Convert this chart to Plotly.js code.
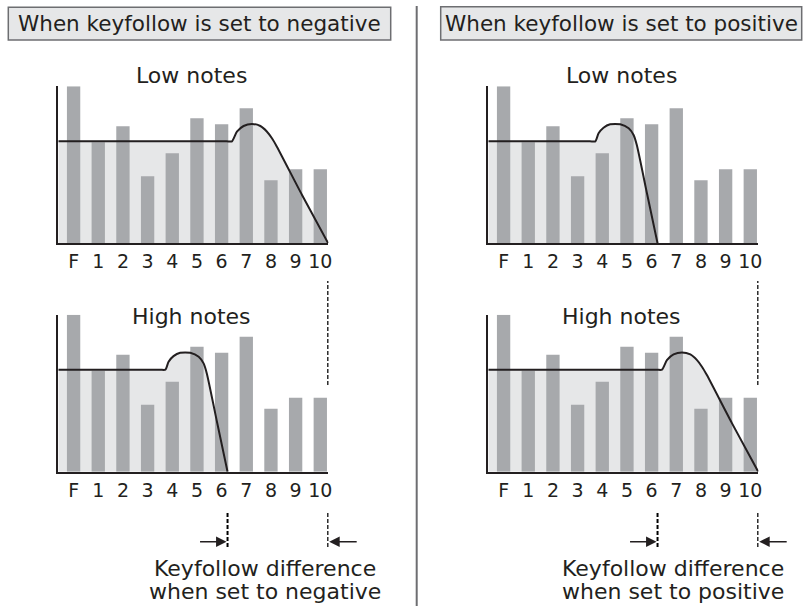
<!DOCTYPE html>
<html>
<head>
<meta charset="utf-8">
<script src="https://cdn.plot.ly/plotly-3.0.1.min.js"></script>
<style>html,body{margin:0;padding:0;background:#fff;}#chart{width:803px;height:606px;}</style>
</head>
<body>
<div id="chart"></div>
<script>
// ---- data ----
const categories = [0, 1, 2, 3, 4, 5, 6, 7, 8, 9, 10];
const tickLabels = ['F', '1', '2', '3', '4', '5', '6', '7', '8', '9', '10'];
const barValues = [157, 101, 117, 67, 90, 125, 119, 135, 63, 74, 74];
// filter curve A: cutoff high (reaches past 10)
const filterAx = [-0.62, 6.2, 6.42, 6.62, 6.89, 7.23, 7.57, 7.84, 8.04, 8.24, 9.26, 10.32];
const filterAy = [102, 102, 102, 111.6, 117.3, 119.3, 117.3, 111.6, 105, 96.6, 48.3, 0];
// filter curve B: cutoff low (near 6)
const filterBx = [-0.62, 3.5, 3.72, 3.85, 4.05, 4.32, 4.73, 5.07, 5.27, 5.40, 5.82, 6.24];
const filterBy = [102, 102, 102, 110, 115.6, 119, 119, 115, 108.3, 98.3, 49, 0];
const headerLabels = ['When keyfollow is set to negative', 'When keyfollow is set to positive'];
const panelTitles = ['Low notes', 'Low notes', 'High notes', 'High notes'];
const diffLine1 = ['Keyfollow difference', 'Keyfollow difference'];
const diffLine2 = ['when set to negative', 'when set to positive'];

// ---- style ----
const W = 803, H = 606;
const px = x => x / W;
const py = y => 1 - y / H;
const INK = '#231f20';
const BAR = '#a7a9ac';
const FILL = '#e6e7e8';
const FONT = 'DejaVu Sans';
const XR = [-0.62, 10.33];
const YR = [0, 157];
const TXT = 22;

// panels: left-top, right-top, left-bottom, right-bottom
const panels = [
  {n: 1, fx: filterAx, fy: filterAy, x0: 58.3, top: 86.3, base: 243.3},
  {n: 2, fx: filterBx, fy: filterBy, x0: 488.3, top: 86.3, base: 243.3},
  {n: 3, fx: filterBx, fy: filterBy, x0: 58.3, top: 314.7, base: 471.7},
  {n: 4, fx: filterAx, fy: filterAy, x0: 488.3, top: 314.7, base: 471.7}
];
const unit = 24.67;

const traces = [];
const layout = {
  width: W, height: H,
  margin: {l: 0, r: 0, t: 0, b: 0, pad: 0},
  paper_bgcolor: '#ffffff', plot_bgcolor: 'rgba(0,0,0,0)',
  showlegend: false,
  font: {family: FONT, color: INK, size: 19},
  shapes: [], annotations: []
};

panels.forEach(p => {
  const xs = p.n === 1 ? '' : String(p.n);
  const ov = String(p.n + 4);
  const xEnd = p.x0 + (XR[1] - XR[0]) * unit;
  layout['xaxis' + xs] = {
    domain: [px(p.x0), px(xEnd)], range: XR, anchor: 'y' + xs,
    showline: true, linecolor: INK, linewidth: 2, showgrid: false, zeroline: false,
    tickvals: categories, ticktext: tickLabels, ticks: '',
    tickfont: {family: FONT, size: 19, color: INK}, fixedrange: true
  };
  layout['yaxis' + xs] = {
    domain: [py(p.base), py(p.top)], range: YR, anchor: 'x' + xs,
    showline: true, linecolor: INK, linewidth: 2, showgrid: false, zeroline: false,
    showticklabels: false, ticks: '', fixedrange: true
  };
  layout['xaxis' + ov] = {overlaying: 'x' + xs, range: XR, visible: false, fixedrange: true};
  layout['yaxis' + ov] = {overlaying: 'y' + xs, range: YR, visible: false, fixedrange: true};
  // filled area (base layer)
  traces.push({
    type: 'scatter', mode: 'lines', x: p.fx, y: p.fy,
    xaxis: 'x' + xs, yaxis: 'y' + xs,
    line: {width: 0, color: FILL, shape: 'spline', smoothing: 0.6},
    fill: 'tozeroy', fillcolor: FILL, hoverinfo: 'skip'
  });
  // bars (overlay)
  traces.push({
    type: 'bar', x: categories, y: barValues, width: 0.54,
    xaxis: 'x' + ov, yaxis: 'y' + ov,
    marker: {color: BAR, line: {width: 0}}, hoverinfo: 'skip'
  });
  // filter line (overlay, above bars)
  traces.push({
    type: 'scatter', mode: 'lines', x: p.fx, y: p.fy,
    xaxis: 'x' + ov, yaxis: 'y' + ov,
    line: {width: 2, color: INK, shape: 'spline', smoothing: 0.6},
    hoverinfo: 'skip'
  });
});

// header boxes
layout.shapes.push({type: 'rect', xref: 'paper', yref: 'paper', x0: px(8.3), x1: px(390.7), y0: py(40), y1: py(7.3),
  fillcolor: FILL, line: {color: '#6d6e71', width: 1.5}, layer: 'below'});
layout.shapes.push({type: 'rect', xref: 'paper', yref: 'paper', x0: px(440.7), x1: px(801.7), y0: py(40), y1: py(6.7),
  fillcolor: FILL, line: {color: '#6d6e71', width: 1.5}, layer: 'below'});
layout.annotations.push({xref: 'paper', yref: 'paper', x: px(199.5), y: py(23.5), text: headerLabels[0], showarrow: false,
  xanchor: 'center', yanchor: 'middle', font: {family: FONT, size: 21.5, color: INK}});
layout.annotations.push({xref: 'paper', yref: 'paper', x: px(621.2), y: py(23.5), text: headerLabels[1], showarrow: false,
  xanchor: 'center', yanchor: 'middle', font: {family: FONT, size: 21.5, color: INK}});

// divider
layout.shapes.push({type: 'line', xref: 'paper', yref: 'paper', x0: px(416.7), x1: px(416.7), y0: py(6), y1: py(606),
  line: {color: '#6d6e71', width: 2}});

// panel titles
const titlePos = [[191.7, 75.5], [621, 75.5], [191.7, 316.7], [621.7, 316.7]];
panelTitles.forEach((t, i) => {
  layout.annotations.push({xref: 'paper', yref: 'paper', x: px(titlePos[i][0]), y: py(titlePos[i][1]), text: t,
    showarrow: false, xanchor: 'center', yanchor: 'middle', font: {family: FONT, size: TXT, color: INK}});
});

// dashed markers and arrows
const cutA = filterAx[filterAx.length - 1];
const cutB = filterBx[filterBx.length - 1];
['x3', 'x4'].forEach((xr, i) => {
  const dash = {color: '#000000', width: 2, dash: '4px,2px'};
  layout.shapes.push({type: 'line', xref: xr, yref: 'paper', x0: cutA, x1: cutA, y0: py(385), y1: py(281), line: dash});
  layout.shapes.push({type: 'line', xref: xr, yref: 'paper', x0: cutA, x1: cutA, y0: py(547), y1: py(511), line: dash});
  layout.shapes.push({type: 'line', xref: xr, yref: 'paper', x0: cutB, x1: cutB, y0: py(547), y1: py(511), line: dash});
  layout.annotations.push({xref: xr, yref: 'paper', x: cutB - 0.04, y: py(541.7), ax: -28, ay: 0, axref: 'pixel', ayref: 'pixel',
    text: '', showarrow: true, arrowhead: 2, arrowsize: 1.4, arrowwidth: 1.5, arrowcolor: INK, standoff: 0});
  layout.annotations.push({xref: xr, yref: 'paper', x: cutA, y: py(541.7), ax: 30, ay: 0, axref: 'pixel', ayref: 'pixel',
    text: '', showarrow: true, arrowhead: 2, arrowsize: 1.4, arrowwidth: 1.5, arrowcolor: INK, standoff: 1});
  const cx = px(i === 0 ? 265 : 672.5);
  layout.annotations.push({xref: 'paper', yref: 'paper', x: cx, y: py(568), text: diffLine1[i],
    showarrow: false, xanchor: 'center', yanchor: 'middle', font: {family: FONT, size: TXT, color: INK}});
  layout.annotations.push({xref: 'paper', yref: 'paper', x: cx, y: py(591), text: diffLine2[i],
    showarrow: false, xanchor: 'center', yanchor: 'middle', font: {family: FONT, size: TXT, color: INK}});
});

Plotly.newPlot('chart', traces, layout, {staticPlot: true, displayModeBar: false});
</script>
</body>
</html>
